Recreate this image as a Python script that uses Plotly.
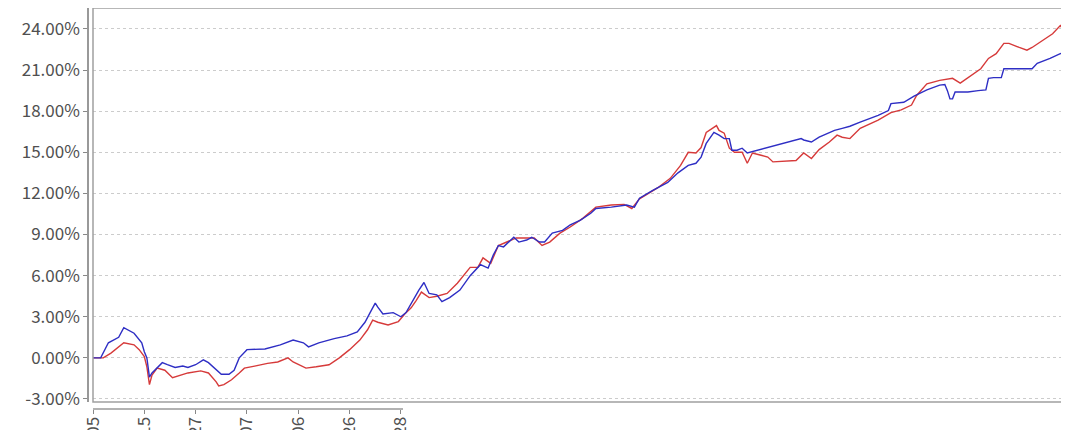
import plotly.graph_objects as go

# ---- data ----
# x positions are trading-day indices; y values are cumulative returns in %
blue_day = [0, 3, 6, 10, 12, 15, 16, 19, 20, 21,
            22, 23, 25, 27, 29, 32, 35, 37, 40, 43,
            45, 48, 50, 53, 55, 57, 60, 67, 73, 78,
            82, 84, 88, 94, 99, 103, 106, 108, 110, 111,
            113, 117, 120, 122, 124, 127, 129, 131, 134, 136,
            139, 143, 147, 151, 154, 156, 158, 160, 164, 166,
            169, 171, 174, 176, 179, 183, 186, 190, 194, 196,
            202, 208, 211, 213, 218, 224, 228, 232, 235, 237,
            239, 242, 244, 246, 248, 249, 251, 253, 255, 259,
            263, 268, 273, 276, 277, 280, 283, 289, 292, 295,
            299, 306, 310, 311, 316, 320, 325, 330, 332, 333,
            334, 335, 336, 341, 345, 348, 349, 351, 354, 355,
            359, 366, 368, 373, 377, 380]
blue_val = [0.0, 0.0, 1.1, 1.5, 2.2, 1.9, 1.8, 1.1, 0.45, 0.0,
            -1.4, -1.1, -0.7, -0.35, -0.5, -0.7, -0.6, -0.7, -0.5, -0.15,
            -0.35, -0.9, -1.2, -1.2, -0.9, 0.0, 0.6, 0.65, 0.95, 1.3,
            1.1, 0.8, 1.1, 1.4, 1.6, 1.9, 2.6, 3.3, 4.0, 3.7,
            3.2, 3.3, 3.0, 3.3, 4.0, 4.95, 5.5, 4.7, 4.6, 4.1,
            4.4, 4.95, 6.0, 6.8, 6.55, 7.5, 8.2, 8.1, 8.8, 8.45,
            8.6, 8.8, 8.45, 8.45, 9.1, 9.3, 9.7, 10.05, 10.55, 10.9,
            11.0, 11.15, 11.0, 11.65, 12.2, 12.8, 13.5, 14.05, 14.2, 14.65,
            15.65, 16.45, 16.25, 16.0, 16.0, 15.15, 15.15, 15.3, 14.95, 15.15,
            15.35, 15.65, 15.9, 16.0, 15.9, 15.75, 16.1, 16.6, 16.75, 16.9,
            17.2, 17.7, 18.05, 18.55, 18.65, 19.1, 19.55, 19.9, 19.95, 19.5,
            18.9, 18.9, 19.4, 19.4, 19.5, 19.55, 20.4, 20.45, 20.45, 21.1,
            21.1, 21.1, 21.5, 21.85, 22.2, 22.3]

red_day = [0, 4, 7, 12, 16, 18, 20, 21, 22, 23,
           25, 28, 31, 35, 37, 42, 45, 48, 49, 51,
           54, 57, 59, 63, 68, 72, 76, 78, 83, 87,
           92, 96, 100, 104, 107, 109, 111, 115, 119, 122,
           124, 126, 128, 131, 134, 138, 142, 147, 150, 152,
           155, 158, 165, 172, 175, 178, 182, 186, 191, 196,
           202, 207, 210, 213, 220, 225, 229, 232, 235, 237,
           239, 243, 244, 246, 248, 250, 253, 255, 257, 260,
           263, 265, 271, 274, 277, 280, 283, 287, 290, 292,
           295, 299, 306, 311, 315, 319, 321, 325, 330, 335,
           338, 341, 346, 349, 352, 355, 357, 361, 364, 366,
           370, 374, 377, 378, 380]
red_val = [0.0, 0.0, 0.35, 1.1, 0.95, 0.6, 0.1, -0.65, -1.95, -1.25,
           -0.75, -0.9, -1.45, -1.25, -1.1, -0.95, -1.1, -1.75, -2.05, -1.95,
           -1.6, -1.1, -0.75, -0.6, -0.4, -0.3, 0.0, -0.3, -0.75, -0.65,
           -0.5, 0.0, 0.6, 1.3, 2.05, 2.75, 2.6, 2.4, 2.65, 3.3,
           3.65, 4.2, 4.8, 4.4, 4.5, 4.7, 5.45, 6.6, 6.6, 7.3,
           6.9, 8.2, 8.75, 8.75, 8.2, 8.45, 9.1, 9.55, 10.2, 11.0,
           11.15, 11.2, 10.9, 11.6, 12.4, 13.1, 14.05, 15.0, 14.95, 15.35,
           16.45, 16.95, 16.6, 16.4, 15.3, 15.0, 15.0, 14.2, 14.95, 14.8,
           14.65, 14.3, 14.4, 14.4, 14.95, 14.55, 15.2, 15.75, 16.25, 16.1,
           16.0, 16.75, 17.35, 17.9, 18.1, 18.45, 19.15, 20.0, 20.25, 20.4,
           20.05, 20.45, 21.1, 21.85, 22.2, 22.95, 22.95, 22.65, 22.45, 22.65,
           23.15, 23.65, 24.25, 24.0, 24.0]

tick_days = [0, 20, 40, 60, 80, 100, 120]
tick_labels = ["2019-09-05", "2019-10-15", "2019-11-27", "2020-01-07", "2020-02-06", "2020-03-26", "2020-04-28"]
y_ticks = [-3, 0, 3, 6, 9, 12, 15, 18, 21, 24]

# ---- layout geometry ----
# the page body has an 8px default margin, so the figure is drawn from (8, 8)
OFF = 8
W, H = 1069 - OFF, 430 - OFF
ML, MR, MT, MB = 88 - OFF, 1, 8 - OFF, 21
PW, PH = W - ML - MR, H - MT - MB
x_dom0 = 5 / PW           # frame left edge (x=93 on the page)
y_dom0 = 7 / PH           # frame bottom edge (y=402 on the page)

FONT = dict(family="Noto Sans CJK SC, Noto Sans, sans-serif", size=17, color="#505050")

fig = go.Figure()
fig.add_trace(go.Scatter(x=red_day, y=red_val, mode="lines", name="red",
                         line=dict(color="#d63a3a", width=1.4)))
fig.add_trace(go.Scatter(x=blue_day, y=blue_val, mode="lines", name="blue",
                         line=dict(color="#2e2ec4", width=1.4)))

fig.update_layout(
    width=W, height=H,
    margin=dict(l=ML, r=MR, t=MT, b=MB, pad=0, autoexpand=False),
    paper_bgcolor="white", plot_bgcolor="white",
    showlegend=False,
    font=FONT,
    xaxis=dict(domain=[x_dom0, 1], anchor="free", position=0, automargin=False,
               range=[0, 380], showgrid=False, zeroline=False, showline=False,
               tickmode="array", tickvals=tick_days, ticktext=tick_labels,
               ticks="outside", ticklen=4, tickcolor="#888888", tickangle=-90,
               ticklabelstandoff=-4, tickfont=FONT),
    yaxis=dict(domain=[y_dom0, 1], anchor="free", position=0, automargin=False,
               range=[-3.22, 25.53], showgrid=True, gridcolor="#cccccc",
               griddash="3px,3px", gridwidth=1, zeroline=False,
               showline=True, linecolor="#999999", linewidth=1.5,
               tickmode="array", tickvals=y_ticks,
               ticktext=[f"{v:.2f}%" for v in y_ticks],
               ticks="outside", ticklen=4, tickcolor="#888888",
               tickfont=FONT),
    shapes=[
        dict(type="rect", xref="paper", yref="paper", x0=x_dom0, x1=1, y0=y_dom0, y1=1,
             line=dict(color="#a0a0a0", width=1.5), layer="above"),
        dict(type="line", xref="paper", yref="paper", x0=x_dom0, x1=(403 - 88) / PW, y0=0, y1=0,
             line=dict(color="#999999", width=1.5)),
    ],
)

fig.write_html("out.html")
